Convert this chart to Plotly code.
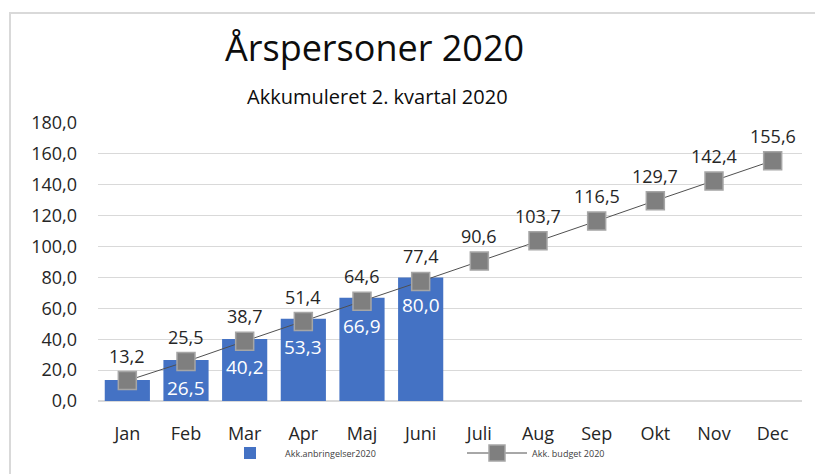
import plotly.graph_objects as go

months = ["Jan", "Feb", "Mar", "Apr", "Maj", "Juni", "Juli", "Aug", "Sep", "Okt", "Nov", "Dec"]
anbringelser = [13.6, 26.5, 40.2, 53.3, 66.9, 80.0]
budget = [13.2, 25.5, 38.7, 51.4, 64.6, 77.4, 90.6, 103.7, 116.5, 129.7, 142.4, 155.6]
y_ticks = [0, 20, 40, 60, 80, 100, 120, 140, 160, 180]

FONT = "Open Sans"
TXT = "#262626"
OFF = 8  # page body margin

def fmt(v):
    return f"{v:.1f}".replace(".", ",")

fig = go.Figure()
fig.add_trace(go.Bar(
    x=months[:len(anbringelser)], y=anbringelser, name="Akk.anbringelser2020",
    marker=dict(color="#4472C4", line=dict(width=0)),
))
fig.add_trace(go.Scatter(
    x=months, y=budget, name="Akk. budget 2020", mode="lines+markers",
    line=dict(color="#505050", width=1),
    marker=dict(symbol="square", size=18, color="#7F7F7F", line=dict(color="#A6A6A6", width=1.5)),
))

# budget labels above the markers
for m, v in zip(months, budget):
    fig.add_annotation(x=m, y=v, text=fmt(v), showarrow=False, yshift=25,
                       font=dict(family=FONT, size=18, color=TXT))

# white labels inside the bars (Jan label hidden, as in the original)
for i, (m, v) in enumerate(zip(months, anbringelser)):
    if i == 0:
        continue
    fig.add_annotation(x=m, y=v, text=fmt(v), showarrow=False, yshift=-28,
                       font=dict(family=FONT, size=19, color="white"))

fig.add_annotation(xref="paper", yref="paper", x=(374 - 98) / 704, y=(401 - 48) / 278,
                   text="Årspersoner 2020", showarrow=False,
                   font=dict(family=FONT, size=36, color="#0d0d0d"), yanchor="middle")
fig.add_annotation(xref="paper", yref="paper", x=(377 - 98) / 704, y=(401 - 97) / 278,
                   text="Akkumuleret 2. kvartal 2020", showarrow=False,
                   font=dict(family=FONT, size=20, color="#0d0d0d"), yanchor="middle")

fig.add_shape(type="rect", xref="paper", yref="paper",
              x0=(10 - 98) / 704, x1=(840 - 98) / 704, y0=(401 - 490) / 278, y1=(401 - 13) / 278,
              line=dict(color="#D9D9D9", width=2), fillcolor="rgba(0,0,0,0)", layer="below")

fig.update_layout(
    width=823, height=474,
    margin=dict(l=98 - OFF, r=823 - (802 - OFF), t=123 - OFF, b=474 - (401 - OFF)),
    paper_bgcolor="white", plot_bgcolor="white",
    separators=",.",
    bargap=0.23,
    font=dict(family=FONT, color=TXT),
    showlegend=True,
    legend=dict(orientation="h", xref="container", yref="container",
                x=(215 - OFF) / 823, y=1 - (453 - OFF) / 474,
                xanchor="left", yanchor="middle", font=dict(size=9, color="#404040"),
                itemwidth=60, entrywidth=172, bgcolor="rgba(0,0,0,0)"),
    xaxis=dict(type="category", categoryarray=months, showline=False, ticks="",
               tickfont=dict(size=18, color=TXT), range=[-0.5, 11.5], automargin=False,
               ticklabelstandoff=20),
    yaxis=dict(range=[0, 180], tickvals=y_ticks, tickformat=".1f", showgrid=True,
               gridcolor="#D9D9D9", gridwidth=1, zeroline=True, zerolinecolor="#D9D9D9",
               showline=False, ticks="", tickfont=dict(size=18, color=TXT), ticklabelstandoff=20,
               automargin=False),
)

fig.write_html("out.html")
